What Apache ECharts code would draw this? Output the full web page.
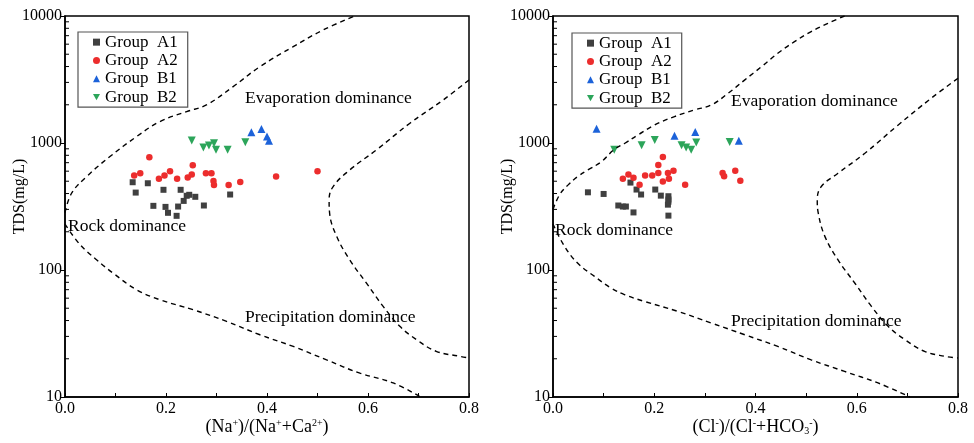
<!DOCTYPE html>
<html>
<head>
<meta charset="utf-8">
<script src="https://cdn.jsdelivr.net/npm/echarts@6.0.0/dist/echarts.min.js"></script>
<style>
  html, body { margin: 0; padding: 0; background: #fff; }
  #container { width: 974px; height: 443px; }
</style>
</head>
<body>
<div id="container"></div>
<script>
// group names
var groups = ['Group  A1', 'Group  A2', 'Group  B1', 'Group  B2'];
var groupColors = ['#404040', '#ec2d2d', '#1c62d9', '#2ca55a'];

// left plot: Na/(Na+Ca) vs TDS
var leftA1 = [[0.134,491],[0.140,407],[0.164,482],[0.175,320],[0.195,428],[0.199,314],[0.204,282],[0.221,267],
              [0.224,316],[0.229,428],[0.235,350],[0.241,384],[0.246,391],[0.258,377],[0.275,322],[0.327,393]];
var leftA2 = [[0.137,554],[0.149,578],[0.167,773],[0.186,522],[0.197,554],[0.208,600],[0.222,522],[0.243,535],
              [0.251,565],[0.253,668],[0.279,578],[0.290,578],[0.294,503],[0.295,468],[0.324,468],[0.347,494],
              [0.418,545],[0.500,600]];
var leftB1 = [[0.369,1216],[0.389,1291],[0.400,1124],[0.404,1040]];
var leftB2 = [[0.251,1045],[0.274,920],[0.285,955],[0.295,996],[0.299,883],[0.322,883],[0.357,1014]];

// right plot: Cl/(Cl+HCO3) vs TDS
var rightA1 = [[0.069,409],[0.100,397],[0.129,322],[0.138,316],[0.144,316],[0.153,488],[0.159,284],[0.165,430],
               [0.174,393],[0.202,430],[0.213,385],[0.228,381],[0.228,359],[0.228,345],[0.227,327],[0.228,268]];
var rightA2 = [[0.138,522],[0.149,566],[0.159,533],[0.171,470],[0.182,556],[0.196,556],[0.208,581],[0.217,776],
               [0.208,671],[0.217,497],[0.227,581],[0.229,522],[0.238,606],[0.261,470],[0.335,581],[0.338,547],
               [0.360,606],[0.370,505]];
var rightB1 = [[0.086,1295],[0.240,1141],[0.281,1220],[0.367,1042]];
var rightB2 = [[0.121,886],[0.175,958],[0.201,1056],[0.254,958],[0.263,923],[0.273,886],[0.283,1010],[0.349,1018]];

// Gibbs boundary curves (dashed)
var leftUpper = [[0.0,283],[0.013,402],[0.043,545],[0.089,782],[0.142,1125],[0.188,1476],[0.241,1767],[0.280,1995],
                 [0.333,2780],[0.386,3994],[0.452,5740],[0.511,7760],[0.574,10000]];
var leftLower = [[0.0,230],[0.030,158],[0.063,120],[0.096,94],[0.142,69.8],[0.188,58.3],[0.254,48.6],[0.320,39.4],
                 [0.386,30.9],[0.452,25.0],[0.518,19.6],[0.584,15.4],[0.650,12.9],[0.704,10]];
var leftRight = [[0.800,3137],[0.749,2183],[0.683,1431],[0.617,884],[0.564,614],[0.531,454],[0.523,356],[0.524,280],
                 [0.538,184],[0.564,120],[0.597,78.8],[0.630,51.7],[0.663,36.0],[0.696,28.3],[0.735,22.9],
                 [0.782,20.9],[0.800,20.3]];
var rightUpper = [[0.0,300],[0.013,391],[0.030,468],[0.049,545],[0.069,614],[0.096,714],[0.120,883],[0.142,996],
                  [0.168,1159],[0.201,1388],[0.240,1615],[0.280,1823],[0.313,1995],[0.346,2465],[0.379,3143],
                  [0.412,3994],[0.444,5085],[0.477,6280],[0.510,7530],[0.543,8750],[0.576,10000]];
var rightLower = [[0.0,230],[0.023,153],[0.049,113],[0.082,89],[0.115,72],[0.142,63.8],[0.181,56.5],[0.247,47.2],
                  [0.313,38.2],[0.379,30.9],[0.444,25],[0.510,19.6],[0.576,15.9],[0.642,12.9],[0.705,10]];
var rightRight = [[0.800,3235],[0.747,2250],[0.682,1388],[0.616,830],[0.563,578],[0.530,454],[0.522,356],[0.524,280],
                  [0.537,184],[0.563,120],[0.596,79],[0.629,51.7],[0.662,36],[0.695,28.3],[0.734,22.9],
                  [0.774,20.9],[0.800,20.3]];

// minor ticks of the log axis (2..9 in each decade)
var yMinorTicks = [20,30,40,50,60,70,80,90,200,300,400,500,600,700,800,900,
                   2000,3000,4000,5000,6000,7000,8000,9000];

var font = 'Liberation Serif';
var downTri = 'path://M0,0L10,0L5,9Z';
var symbols = ['rect', 'circle', 'triangle', downTri];
var symbolSizes = [6, 6.5, 8, 8];

function xAxisOf(idx, name) {
    return {
        type: 'value', gridIndex: idx, min: 0, max: 0.8, interval: 0.2,
        name: name, nameLocation: 'middle', nameGap: 21, nameMoveOverlap: false,
        nameTextStyle: {
            rich: {
                n: {fontFamily: font, fontSize: 18, color: '#000'},
                s: {fontFamily: font, fontSize: 10, color: '#000', verticalAlign: 'top'},
                b: {fontFamily: font, fontSize: 10, color: '#000', verticalAlign: 'bottom'}
            }
        },
        axisLine: {lineStyle: {color: '#000', width: 1.5}},
        axisTick: {inside: true, length: 4, lineStyle: {color: '#000'}},
        minorTick: {show: true, splitNumber: 2, length: 4, lineStyle: {color: '#000'}},
        splitLine: {show: false},
        axisLabel: {
            fontFamily: font, fontSize: 16, color: '#000', margin: 4,
            formatter: function (v) { return v.toFixed(1); }
        }
    };
}

function yAxisOf(idx) {
    return {
        type: 'log', logBase: 10, gridIndex: idx, min: 10, max: 10000,
        name: 'TDS(mg/L)', nameLocation: 'middle', nameGap: 37, nameMoveOverlap: false,
        nameTextStyle: {fontFamily: font, fontSize: 16, color: '#000', padding: [0, 0, 0, 20]},
        axisLine: {lineStyle: {color: '#000', width: 1.5}},
        axisTick: {inside: false, length: 4, lineStyle: {color: '#000'}},
        splitLine: {show: false},
        axisLabel: {
            fontFamily: font, fontSize: 16, color: '#000', margin: 3,
            formatter: function (v) { return String(Math.round(v)); }
        }
    };
}

// short inward ticks drawn on the log axis through its own scale
function minorTicks(idx) {
    return {
        type: 'custom', xAxisIndex: idx, yAxisIndex: idx, silent: true, clip: false,
        data: yMinorTicks.map(function (v) { return [0, v]; }),
        renderItem: function (params, api) {
            var p = api.coord([0, api.value(1)]);
            return {
                type: 'line',
                shape: {x1: p[0], y1: p[1], x2: p[0] + 4, y2: p[1]},
                style: {stroke: '#000', lineWidth: 1}
            };
        }
    };
}

function curve(idx, data) {
    return {
        type: 'line', xAxisIndex: idx, yAxisIndex: idx, data: data,
        showSymbol: false, smooth: 0.4, silent: true,
        lineStyle: {color: '#000', width: 1.4, type: [5, 4]}
    };
}

function scatter(idx, g, data) {
    return {
        name: groups[g], type: 'scatter', xAxisIndex: idx, yAxisIndex: idx, data: data,
        symbol: symbols[g], symbolSize: symbolSizes[g],
        itemStyle: {color: groupColors[g], opacity: 1}
    };
}

function legendOf(left, top) {
    return {
        orient: 'vertical', left: left, top: top,
        borderColor: '#555', borderWidth: 1.2, padding: [1, 10, 1, 15],
        itemWidth: 7, itemHeight: 7, itemGap: 0, itemTextGap: 14,
        selectedMode: false,
        textStyle: {fontFamily: font, fontSize: 17, color: '#000', lineHeight: 18.3},
        data: groups.map(function (n, i) {
            return {name: n, icon: symbols[i], itemStyle: {color: groupColors[i]}};
        })
    };
}

function label(x, y, txt) {
    return {
        type: 'text', left: x, top: y, silent: true,
        style: {text: txt, fontFamily: font, fontSize: 17.5, fill: '#000'}
    };
}

var dom = document.getElementById('container');
var myChart = echarts.init(dom);
var option = {
    animation: false,
    backgroundColor: '#fff',
    grid: [
        {left: 65, top: 16, width: 404, height: 381, show: true, borderColor: '#000', borderWidth: 1.5},
        {left: 553, top: 16, width: 405, height: 381, show: true, borderColor: '#000', borderWidth: 1.5}
    ],
    xAxis: [
        xAxisOf(0, '{n|(Na}{s|+}{n|)/(Na}{s|+}{n|+Ca}{s|2+}{n|)}'),
        xAxisOf(1, '{n|(Cl}{s|-}{n|)/(Cl}{s|-}{n|+HCO}{b|3}{s|-}{n|)}')
    ],
    yAxis: [yAxisOf(0), yAxisOf(1)],
    legend: [legendOf(78, 32), legendOf(572, 33)],
    graphic: [
        label(245, 89, 'Evaporation dominance'),
        label(68, 217, 'Rock dominance'),
        label(245, 308, 'Precipitation dominance'),
        label(731, 92, 'Evaporation dominance'),
        label(555, 221, 'Rock dominance'),
        label(731, 312, 'Precipitation dominance')
    ],
    series: [
        minorTicks(0), minorTicks(1),
        curve(0, leftUpper), curve(0, leftLower), curve(0, leftRight),
        curve(1, rightUpper), curve(1, rightLower), curve(1, rightRight),
        scatter(0, 0, leftA1), scatter(0, 1, leftA2), scatter(0, 2, leftB1), scatter(0, 3, leftB2),
        scatter(1, 0, rightA1), scatter(1, 1, rightA2), scatter(1, 2, rightB1), scatter(1, 3, rightB2)
    ]
};
myChart.setOption(option);
</script>
</body>
</html>
